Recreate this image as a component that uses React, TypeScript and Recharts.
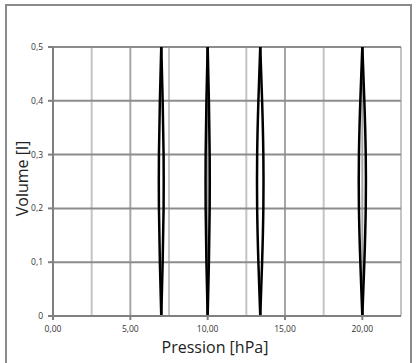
import { CartesianGrid, Label, Line, LineChart, XAxis, YAxis } from "recharts";

// volume levels shared by every lens side (l)
const volumeLevels = [0, 0.1, 0.2, 0.3, 0.4, 0.5];

// pressure read along each side of the four loops (hPa)
const loop7Right = [7.0, 7.09, 7.15, 7.15, 7.09, 7.0];
const loop7Left = [7.0, 6.91, 6.85, 6.85, 6.91, 7.0];
const loop10Right = [10.0, 10.08, 10.13, 10.13, 10.08, 10.0];
const loop10Left = [10.0, 9.92, 9.87, 9.87, 9.92, 10.0];
const loop13Right = [13.4, 13.52, 13.6, 13.6, 13.52, 13.4];
const loop13Left = [13.4, 13.28, 13.2, 13.2, 13.28, 13.4];
const loop20Right = [20.0, 20.13, 20.22, 20.22, 20.13, 20.0];
const loop20Left = [20.0, 19.87, 19.78, 19.78, 19.87, 20.0];

const xTicks = [0, 5, 10, 15, 20];
const yTicks = [0, 0.1, 0.2, 0.3, 0.4, 0.5];
const minorVerticals = [2.5, 7.5, 12.5, 17.5, 22.5];
const majorVerticals = [5, 10, 15, 20];
const horizontals = [0.1, 0.2, 0.3, 0.4, 0.5];

const sides = [
  loop7Right,
  loop7Left,
  loop10Right,
  loop10Left,
  loop13Right,
  loop13Left,
  loop20Right,
  loop20Left,
].map((side) => volumeLevels.map((v, i) => ({ p: side[i], v })));

const font = "'Open Sans', 'DejaVu Sans', sans-serif";

export default function App() {
  return (
    <div
      style={{
        position: "absolute",
        left: 0,
        top: 0,
        width: 418,
        height: 363,
        background: "#fff",
        overflow: "hidden",
        fontFamily: font,
      }}
    >
      <div
        style={{
          position: "absolute",
          left: 5,
          top: 4,
          width: 407,
          height: 370,
          boxSizing: "border-box",
          border: "2px solid #8a8a8a",
        }}
      />
      <div style={{ position: "absolute", left: 0, top: 0 }}>
        <LineChart
          width={418}
          height={363}
          margin={{ top: 47, right: 17, bottom: 0, left: 0 }}
        >
          <CartesianGrid
            horizontal={false}
            verticalValues={minorVerticals}
            stroke="#c4c4c4"
            strokeWidth={2}
          />
          <CartesianGrid
            horizontal={false}
            verticalValues={majorVerticals}
            stroke="#a6a6a6"
            strokeWidth={2}
          />
          <CartesianGrid
            vertical={false}
            horizontalValues={horizontals}
            stroke="#8c8c8c"
            strokeWidth={2}
          />
          <XAxis
            dataKey="p"
            type="number"
            domain={[0, 22.5]}
            ticks={xTicks}
            interval={0}
            height={47}
            tickSize={4}
            tickMargin={6}
            stroke="#808080"
            strokeWidth={2}
            tick={{ fill: "#333", fontSize: 8.5, fontFamily: font }}
            tickFormatter={(t: number) => t.toFixed(2).replace(".", ",")}
          >
            <Label
              value="Pression [hPa]"
              position="insideBottom"
              offset={10}
              dx={-12}
              style={{ fill: "#222", fontSize: 16, fontFamily: font }}
            />
          </XAxis>
          <YAxis
            dataKey="v"
            type="number"
            domain={[0, 0.5]}
            ticks={yTicks}
            interval={0}
            width={53}
            tickSize={5}
            tickMargin={5}
            stroke="#808080"
            strokeWidth={2}
            tick={{ fill: "#333", fontSize: 8.5, fontFamily: font }}
            tickFormatter={(t: number) =>
              t === 0 ? "0" : t.toFixed(1).replace(".", ",")
            }
          >
            <Label
              value="Volume [l]"
              angle={-90}
              position="insideLeft"
              offset={22}
              dy={-3}
              style={{
                fill: "#222",
                fontSize: 16,
                fontFamily: font,
                textAnchor: "middle",
              }}
            />
          </YAxis>
          {sides.map((data, i) => (
            <Line
              key={i}
              data={data}
              dataKey="v"
              type="natural"
              stroke="#000"
              strokeWidth={2.5}
              dot={false}
              activeDot={false}
              isAnimationActive={false}
            />
          ))}
        </LineChart>
      </div>
    </div>
  );
}
